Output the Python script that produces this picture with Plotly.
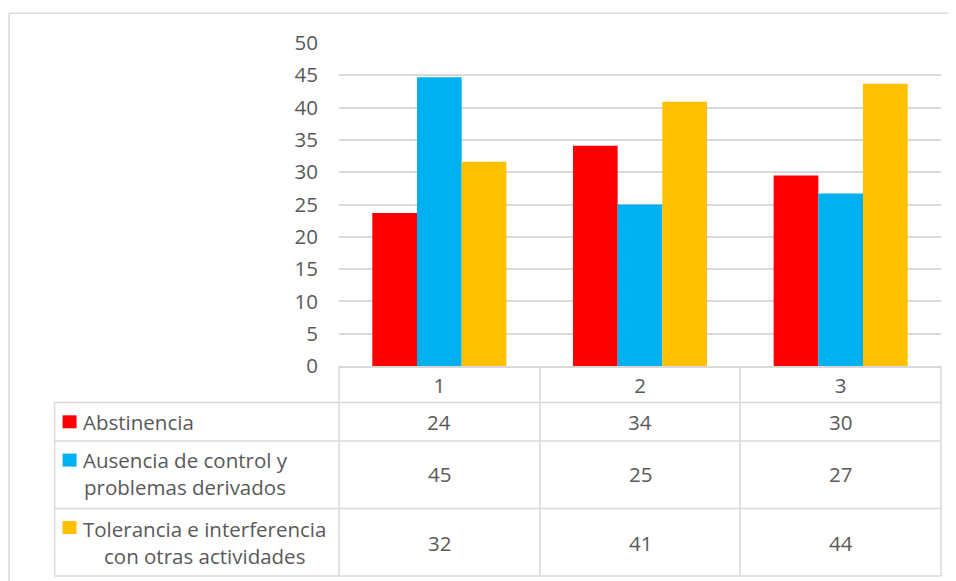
import math
import plotly.graph_objects as go

# ---- data ----
categories = [1, 2, 3]
series_names = [
    "Abstinencia",
    "Ausencia de control y<br>problemas derivados",
    "Tolerancia e interferencia<br>con otras actividades",
]
abstinencia = [23.7, 34.1, 29.5]
ausencia = [44.7, 25.0, 26.7]
tolerancia = [31.6, 40.9, 43.7]
colors = ["#FF0000", "#00B0F0", "#FFC000"]
y_ticks = [0, 5, 10, 15, 20, 25, 30, 35, 40, 45, 50]

OFF = 8  # page body margin
W, H = 956 - OFF, 581 - OFF
ML, MR, MT, MB = 331.3, 15, 34.7, 215.3
PW = W - ML - MR
PH = H - MT - MB


def px(x):
    # screen pixel x -> paper
    return (x - OFF - ML) / PW


def py(y):
    # screen pixel y -> paper
    return (H - MB - (y - OFF)) / PH


TXT = "#595959"
GRID = "#d9d9d9"
FONT = "Open Sans"
FS = 20.5

all_series = [abstinencia, ausencia, tolerancia]

fig = go.Figure()
for name, vals, col in zip(series_names, all_series, colors):
    fig.add_trace(go.Bar(x=categories, y=vals, name=name, marker_color=col,
                         marker_line_width=0, showlegend=False))

shapes = []
annotations = []


def line(x0, y0, x1, y1):
    shapes.append(dict(type="line", xref="paper", yref="paper",
                       x0=px(x0), y0=py(y0), x1=px(x1), y1=py(y1),
                       line=dict(color=GRID, width=1.5)))


# outer chart border (cropped right/bottom)
line(9.5, 13, 9.5, 600)
line(9.5, 13, 980, 13)

# table grid
row_lines = [402.3, 440.7, 508.3, 575.7]
for yy in row_lines:
    line(55, yy, 941, yy)
line(55, 402.3, 55, 575.7)
for xx in [339.3, 540, 740, 941]:
    line(xx, 366, xx, 575.7)

# legend markers and labels
row_centers = [421.5, 473.5, 542.5]
marker_tops = [415, 453.3, 520.7]
for i, (name, col) in enumerate(zip(series_names, colors)):
    shapes.append(dict(type="rect", xref="paper", yref="paper",
                       x0=px(63), x1=px(77), y0=py(marker_tops[i]), y1=py(marker_tops[i] + 13),
                       fillcolor=col, line=dict(width=0)))
    annotations.append(dict(xref="paper", yref="paper", x=px(81), y=py(row_centers[i]),
                            text=name, showarrow=False, xanchor="left", yanchor="middle",
                            align="center", font=dict(family=FONT, size=FS, color=TXT)))
    for c, v in zip(categories, all_series[i]):
        annotations.append(dict(xref="x", yref="paper", x=c, y=py(row_centers[i]),
                                text=str(int(math.floor(v + 0.5))), showarrow=False,
                                xanchor="center", yanchor="middle",
                                font=dict(family=FONT, size=FS, color=TXT)))

fig.update_layout(
    width=W, height=H,
    margin=dict(l=ML, r=MR, t=MT, b=MB, pad=0),
    paper_bgcolor="white", plot_bgcolor="white",
    barmode="group", bargap=0.332, bargroupgap=0,
    shapes=shapes, annotations=annotations,
    font=dict(family=FONT, size=FS, color=TXT),
)
fig.update_xaxes(range=[0.5, 3.5], tickvals=categories, ticktext=[str(c) for c in categories],
                 showgrid=False, zeroline=False, showline=True, linecolor=GRID, linewidth=1.5,
                 ticks="", ticklabelstandoff=1, tickfont=dict(family=FONT, size=FS, color=TXT))
fig.update_yaxes(range=[0, 50], tickvals=y_ticks, showgrid=True, gridcolor=GRID, gridwidth=1.5,
                 zeroline=False, showline=False, ticks="", ticklabelstandoff=20,
                 tickfont=dict(family=FONT, size=FS, color=TXT))

fig.write_html("out.html")
